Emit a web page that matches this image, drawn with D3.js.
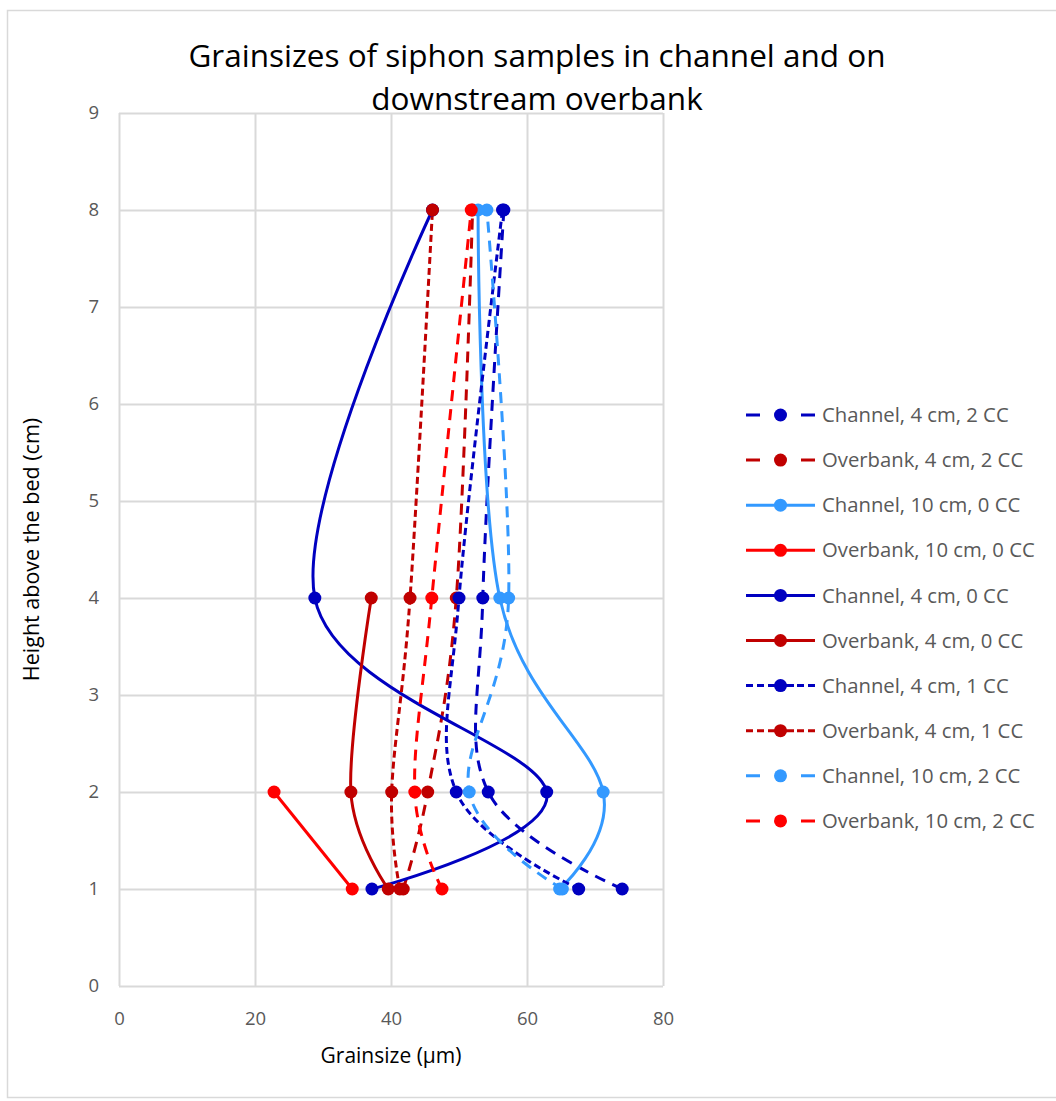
<!DOCTYPE html>
<html>
<head>
<meta charset="utf-8">
<script src="https://cdn.jsdelivr.net/npm/d3@7"></script>
<style>
  body { margin: 0; background: #fff; overflow: hidden; }
  text { font-family: "Open Sans", "Noto Sans", sans-serif; }
</style>
</head>
<body>
<div class="container"></div>
<script>
// heights above the bed (cm) where the siphon samples were taken
const heights = [1, 2, 4, 8];

// grainsize (µm) at each height, null where there is no sample
const channel4cm2CC = [74.0, 54.3, 53.5, 56.6];
const overbank4cm2CC = [41.8, 45.4, 49.6, 52.0];
const channel10cm0CC = [64.8, 71.2, 56.0, 52.8];
const overbank10cm0CC = [34.3, 22.8, null, null];
const channel4cm0CC = [37.2, 62.9, 28.8, 46.1];
const overbank4cm0CC = [39.6, 34.1, 37.1, null];
const channel4cm1CC = [67.6, 49.6, 50.0, 56.4];
const overbank4cm1CC = [41.3, 40.1, 42.8, 46.1];
const channel10cm2CC = [65.2, 51.5, 57.3, 54.1];
const overbank10cm2CC = [47.5, 43.5, 46.0, 51.8];

const seriesNames = [
    "Channel, 4 cm, 2 CC", "Overbank, 4 cm, 2 CC",
    "Channel, 10 cm, 0 CC", "Overbank, 10 cm, 0 CC",
    "Channel, 4 cm, 0 CC", "Overbank, 4 cm, 0 CC",
    "Channel, 4 cm, 1 CC", "Overbank, 4 cm, 1 CC",
    "Channel, 10 cm, 2 CC", "Overbank, 10 cm, 2 CC"
];
const seriesValues = [
    channel4cm2CC, overbank4cm2CC, channel10cm0CC, overbank10cm0CC,
    channel4cm0CC, overbank4cm0CC, channel4cm1CC, overbank4cm1CC,
    channel10cm2CC, overbank10cm2CC
];

const xTicks = [0, 20, 40, 60, 80];
const yTicks = [0, 1, 2, 3, 4, 5, 6, 7, 8, 9];

// colours and dash styles, one per series
const darkBlue = "#0000c0", darkRed = "#c00000", lightBlue = "#3399ff", red = "#ff0000";
const longDash = "11,8", shortDash = "7,4";
const styles = [
    { color: darkBlue, dash: longDash },
    { color: darkRed, dash: longDash },
    { color: lightBlue, dash: null },
    { color: red, dash: null },
    { color: darkBlue, dash: null },
    { color: darkRed, dash: null },
    { color: darkBlue, dash: shortDash },
    { color: darkRed, dash: shortDash },
    { color: lightBlue, dash: longDash },
    { color: red, dash: longDash }
];

// legend swatch dashes (69px long, marker in the middle)
const legendDash = { [longDash]: "14,41,14", [shortDash]: "7,4,7,4,26,3,7,4,7" };

const series = seriesNames.map((name, i) => ({
    name: name,
    style: styles[i],
    points: heights.map((h, j) => ({ h: h, v: seriesValues[i][j] }))
}));

const totalWidth = 1056, totalHeight = 1101;
const margin = { top: 113, right: 393, bottom: 115, left: 119 };
const width = totalWidth - margin.left - margin.right,
      height = totalHeight - margin.top - margin.bottom;

const svg = d3.select(".container")
    .append("svg")
    .attr("width", totalWidth)
    .attr("height", totalHeight);

// chart area frame
svg.append("rect")
    .attr("x", 7.5)
    .attr("y", 10.5)
    .attr("width", 1060)
    .attr("height", 1087)
    .attr("fill", "#fff")
    .attr("stroke", "#d9d9d9")
    .attr("stroke-width", 1.5);

svg.append("text")
    .attr("x", 537)
    .attr("text-anchor", "middle")
    .attr("font-size", 31.5)
    .attr("fill", "#000")
    .selectAll("tspan")
    .data(["Grainsizes of siphon samples in channel and on", "downstream overbank"])
    .enter()
    .append("tspan")
    .attr("x", 537)
    .attr("y", (d, i) => 67 + i * 43)
    .text(d => d);

const canvas = svg.append("g")
    .attr("transform", `translate(${margin.left}, ${margin.top})`);

const x = d3.scaleLinear().domain([0, 80]).range([0, width]);
const y = d3.scaleLinear().domain([0, 9]).range([height, 0]);

// gridlines via the axes
const yAxis = d3.axisLeft(y).tickValues(yTicks).tickSize(-width).tickPadding(20);
const xAxis = d3.axisBottom(x).tickValues(xTicks).tickSize(-height).tickPadding(26);

const gy = canvas.append("g").call(yAxis);
const gx = canvas.append("g").attr("transform", `translate(0, ${height})`).call(xAxis);

[gx, gy].forEach(g => {
    g.select(".domain").remove();
    g.selectAll(".tick line").attr("stroke", "#d9d9d9").attr("stroke-width", 2);
    g.selectAll(".tick text")
        .attr("fill", "#595959")
        .attr("font-size", 18.5)
        .attr("font-family", "\"Open Sans\", sans-serif");
});

canvas.append("text")
    .attr("x", x(40))
    .attr("y", height + 77)
    .attr("text-anchor", "middle")
    .attr("font-size", 21)
    .attr("fill", "#000")
    .text("Grainsize (µm)");

canvas.append("text")
    .attr("transform", `translate(${39 - margin.left}, ${y(4.5)}) rotate(-90)`)
    .attr("text-anchor", "middle")
    .attr("font-size", 21.5)
    .attr("fill", "#000")
    .text("Height above the bed (cm)");

// smoothed lines, like the spreadsheet "smoothed line" option
const line = d3.line()
    .defined(d => d.v !== null)
    .x(d => x(d.v))
    .y(d => y(d.h))
    .curve(d3.curveCatmullRom.alpha(0));

canvas.selectAll(".series-line")
    .data(series)
    .enter()
    .append("path")
    .attr("class", "series-line")
    .attr("d", d => line(d.points))
    .attr("fill", "none")
    .attr("stroke", d => d.style.color)
    .attr("stroke-width", 3)
    .attr("stroke-dasharray", d => d.style.dash);

canvas.selectAll(".series-dots")
    .data(series)
    .enter()
    .append("g")
    .attr("class", "series-dots")
    .attr("fill", d => d.style.color)
    .selectAll("circle")
    .data(d => d.points.filter(p => p.v !== null))
    .enter()
    .append("circle")
    .attr("cx", p => x(p.v))
    .attr("cy", p => y(p.h))
    .attr("r", 6.5);

// legend
const legend = svg.append("g").attr("transform", "translate(746, 415)");
const entry = legend.selectAll("g")
    .data(series)
    .enter()
    .append("g")
    .attr("transform", (d, i) => `translate(0, ${i * 45.1})`);

entry.append("line")
    .attr("x1", 0)
    .attr("x2", 69)
    .attr("stroke", d => d.style.color)
    .attr("stroke-width", 3)
    .attr("stroke-dasharray", d => d.style.dash ? legendDash[d.style.dash] : null);

entry.append("circle")
    .attr("cx", 34.5)
    .attr("r", 6.5)
    .attr("fill", d => d.style.color);

entry.append("text")
    .attr("x", 76)
    .attr("dy", "0.35em")
    .attr("font-size", 20.3)
    .attr("fill", "#595959")
    .text(d => d.name);
</script>
</body>
</html>
